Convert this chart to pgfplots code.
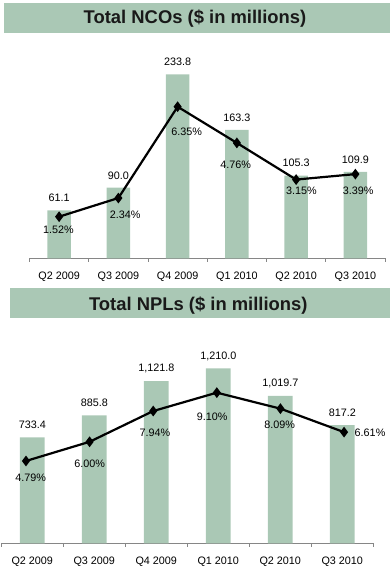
\documentclass[border=0pt]{standalone}
\usepackage{fontspec}
\setmainfont{Liberation Sans}
\usepackage{pgfplots}
\pgfplotsset{compat=1.18}
\definecolor{sage}{RGB}{170,200,181}
\definecolor{axgray}{RGB}{134,134,134}
\newcommand{\lblfont}{\fontsize{10.8bp}{13bp}\selectfont}
\tikzset{pct/.style={font=\lblfont, inner sep=0pt, anchor=center}}
\pgfplotsset{
  barbase/.style={
    anchor=south west, scale only axis,
    xmin=-0.5, xmax=5.5, ymin=0,
    axis x line*=bottom, axis y line=none,
    axis line style={axgray, line width=0.9bp},
    xtick={0,...,5},
    xticklabels={Q2 2009,Q3 2009,Q4 2009,Q1 2010,Q2 2010,Q3 2010},
    major tick length=0pt,
    minor xtick={-0.5,0.5,...,5.5},
    minor tick length=3.5bp,
    xtick align=outside,
    minor tick style={axgray, line width=0.9bp},
    xticklabel style={font=\lblfont, anchor=center, yshift=-18bp},
    clip=false,
    nodes near coords={\pgfmathprintnumber[fixed,fixed zerofill,precision=1,1000 sep={,},assume math mode=true]{\pgfplotspointmeta}},
    nodes near coords style={font=\lblfont, anchor=center, yshift=12.3bp, inner sep=0pt},
  },
  linebase/.style={
    anchor=south west, scale only axis, axis lines=none, clip=false,
  },
  ratio/.style={black, line width=2.2bp, mark=diamond*, mark size=3.6bp, mark options={fill=black, solid}},
}
\begin{document}
\begin{tikzpicture}
\useasboundingbox (0,0) rectangle (390bp,575bp);
% banners
\fill[sage] (4bp,542.3bp) rectangle (390bp,571.7bp);
\node[font=\bfseries\fontsize{18.4bp}{22bp}\selectfont, text=black!90] at (195bp,556bp) {Total NCOs (\$ in millions)};
\fill[sage] (10bp,257.3bp) rectangle (390bp,286.7bp);
\node[font=\bfseries\fontsize{18.4bp}{22bp}\selectfont, text=black!90] at (198.3bp,269.5bp) {Total NPLs (\$ in millions)};

% ---------- top chart: NCOs ----------
\begin{axis}[barbase, at={(29.5bp,316.5bp)}, width=355.5bp, height=208bp, ymax=264.1]
\addplot[ybar, bar width=23.5bp, fill=sage, draw=none] coordinates {
 (0,61.1) (1,90.0) (2,233.8) (3,163.3) (4,105.3) (5,109.9)};
\end{axis}
\begin{axis}[linebase, at={(29.5bp,316.5bp)}, width=355.5bp, height=208bp,
  xmin=-0.5, xmax=5.5, ymin=-0.316, ymax=8.819]
\addplot[ratio] coordinates {
 (0,1.52) (1,2.34) (2,6.35) (3,4.76) (4,3.15) (5,3.39)};
\node[pct, xshift=-0.8bp, yshift=-13.3bp] at (axis cs:0,1.52) {1.52\%};
\node[pct, xshift=6.7bp, yshift=-16.3bp] at (axis cs:1,2.34) {2.34\%};
\node[pct, xshift=9bp, yshift=-25bp] at (axis cs:2,6.35) {6.35\%};
\node[pct, xshift=-1.3bp, yshift=-22bp] at (axis cs:3,4.76) {4.76\%};
\node[pct, xshift=5.3bp, yshift=-11.4bp] at (axis cs:4,3.15) {3.15\%};
\node[pct, xshift=2.7bp, yshift=-17bp] at (axis cs:5,3.39) {3.39\%};
\end{axis}

% ---------- bottom chart: NPLs ----------
\begin{axis}[barbase, at={(1.3bp,31.7bp)}, width=372bp, height=200bp, ymax=1384]
\addplot[ybar, bar width=24.7bp, fill=sage, draw=none] coordinates {
 (0,733.4) (1,885.8) (2,1121.8) (3,1210.0) (4,1019.7) (5,817.2)};
\end{axis}
\begin{axis}[linebase, at={(1.3bp,31.7bp)}, width=372bp, height=200bp,
  xmin=-0.388, xmax=5.46, ymin=-0.404, ymax=12.214]
\addplot[ratio] coordinates {
 (0,4.79) (1,6.00) (2,7.94) (3,9.10) (4,8.09) (5,6.61)};
\node[pct, xshift=4.7bp, yshift=-17.3bp] at (axis cs:0,4.79) {4.79\%};
\node[pct, xshift=0bp, yshift=-21.6bp] at (axis cs:1,6.00) {6.00\%};
\node[pct, xshift=1.7bp, yshift=-21.7bp] at (axis cs:2,7.94) {7.94\%};
\node[pct, xshift=-4.7bp, yshift=-24.6bp] at (axis cs:3,9.10) {9.10\%};
\node[pct, xshift=-0.7bp, yshift=-16.3bp] at (axis cs:4,8.09) {8.09\%};
\node[pct, xshift=26bp, yshift=-0.7bp] at (axis cs:5,6.61) {6.61\%};
\end{axis}
\end{tikzpicture}
\end{document}
